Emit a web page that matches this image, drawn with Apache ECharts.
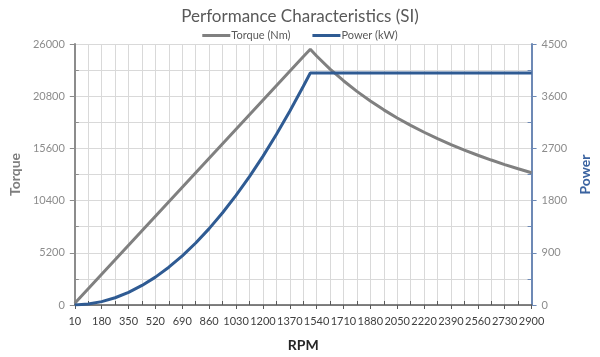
<!DOCTYPE html>
<html>
<head>
<meta charset="utf-8">
<script src="https://cdn.jsdelivr.net/npm/echarts@6/dist/echarts.min.js"></script>
<style>
html,body{margin:0;padding:0;background:#fff;}
#chart{width:600px;height:357px;}
</style>
</head>
<body>
<div id="chart"></div>
<script>
const rpm = [10,95,180,265,350,435,520,605,690,775,860,945,1030,1115,1200,1285,1370,1455,1500,
  1540,1625,1710,1795,1880,1965,2050,2135,2220,2305,2390,2475,2560,2645,2730,2815,2900];
const torque = [170,1615,3060,4505,5950,7395,8840,10285,11730,13175,14620,16065,17510,18955,20400,21845,23290,24735,25470,
  24800,23500,22340,21280,20320,19440,18630,17890,17210,16570,15980,15430,14920,14440,13990,13570,13170];
const power = [0,16,58,125,218,337,481,652,848,1069,1317,1590,1889,2213,2563,2939,3341,3768,4000,
  4000,4000,4000,4000,4000,4000,4000,4000,4000,4000,4000,4000,4000,4000,4000,4000,4000];

const chart = echarts.init(document.getElementById('chart'), null, {renderer:'canvas'});
const FONT = 'Lato';
const plain = v => String(Math.round(v));
chart.setOption({
  animation:false,
  backgroundColor:'#ffffff',
  title:{
    text:'Performance Characteristics (SI)',
    left:'center', top:3,
    textStyle:{fontFamily:FONT,fontSize:17,fontWeight:'normal',color:'#595959'}
  },
  legend:{
    top:25, left:'center', itemGap:22, itemWidth:28, itemHeight:3,
    textStyle:{fontFamily:FONT,fontSize:11,color:'#595959',padding:[0,0,0,-4]},
    icon:'rect',
    data:['Torque (Nm)','Power (kW)']
  },
  grid:{left:65,right:61,top:44,bottom:48,containLabel:false},
  xAxis:{
    type:'value', min:10, max:2900, interval:170,
    name:'RPM', nameLocation:'middle', nameGap:33,
    nameTextStyle:{fontFamily:FONT,fontSize:14,fontWeight:'bold',color:'#262626'},
    axisLine:{show:true,lineStyle:{color:'#595959',width:1.5}},
    axisTick:{show:true,length:4,lineStyle:{color:'#595959'}},
    minorTick:{show:true,splitNumber:2,length:-4,lineStyle:{color:'#595959'}},
    axisLabel:{fontFamily:FONT,fontSize:11,color:'#404040',margin:11,formatter:plain,showMaxLabel:true,showMinLabel:true,hideOverlap:false},
    splitLine:{show:true,lineStyle:{color:'#d9d9d9',width:1}},
    minorSplitLine:{show:true,lineStyle:{color:'#d9d9d9',width:1}}
  },
  yAxis:[{
    type:'value', min:0, max:26000, interval:5200, position:'left',
    name:'Torque', nameLocation:'middle', nameGap:48, nameRotate:90,
    nameTextStyle:{fontFamily:FONT,fontSize:14,fontWeight:'bold',color:'#7f7f7f'},
    axisLine:{show:true,lineStyle:{color:'#8c8c8c',width:2}},
    axisTick:{show:true,length:5,lineStyle:{color:'#8c8c8c'}},
    minorTick:{show:true,splitNumber:2,length:-4,lineStyle:{color:'#8c8c8c'}},
    axisLabel:{fontFamily:FONT,fontSize:11,color:'#8c8c8c',margin:10,formatter:plain},
    splitLine:{show:true,lineStyle:{color:'#d9d9d9'}},
    minorSplitLine:{show:true,lineStyle:{color:'#d9d9d9'}}
  },{
    type:'value', min:0, max:4500, interval:900, position:'right',
    name:'Power', nameLocation:'middle', nameGap:45, nameRotate:90,
    nameTextStyle:{fontFamily:FONT,fontSize:14,fontWeight:'bold',color:'#3b63a0'},
    axisLine:{show:true,lineStyle:{color:'#6d89b5',width:2}},
    axisTick:{show:true,length:5,lineStyle:{color:'#6d89b5'}},
    minorTick:{show:true,splitNumber:2,length:-4,lineStyle:{color:'#6d89b5'}},
    axisLabel:{fontFamily:FONT,fontSize:11,color:'#8c8c8c',margin:10,formatter:plain},
    splitLine:{show:false},
    minorSplitLine:{show:false}
  }],
  series:[{
    name:'Torque (Nm)', type:'line', yAxisIndex:0, showSymbol:false, symbol:'none',
    data:rpm.map((r,i)=>[r,torque[i]]),
    lineStyle:{color:'#808080',width:3}, itemStyle:{color:'#808080'}
  },{
    name:'Power (kW)', type:'line', yAxisIndex:1, showSymbol:false, symbol:'none',
    data:rpm.map((r,i)=>[r,power[i]]),
    lineStyle:{color:'#2f5b93',width:3}, itemStyle:{color:'#2f5b93'}
  }]
});
</script>
</body>
</html>
